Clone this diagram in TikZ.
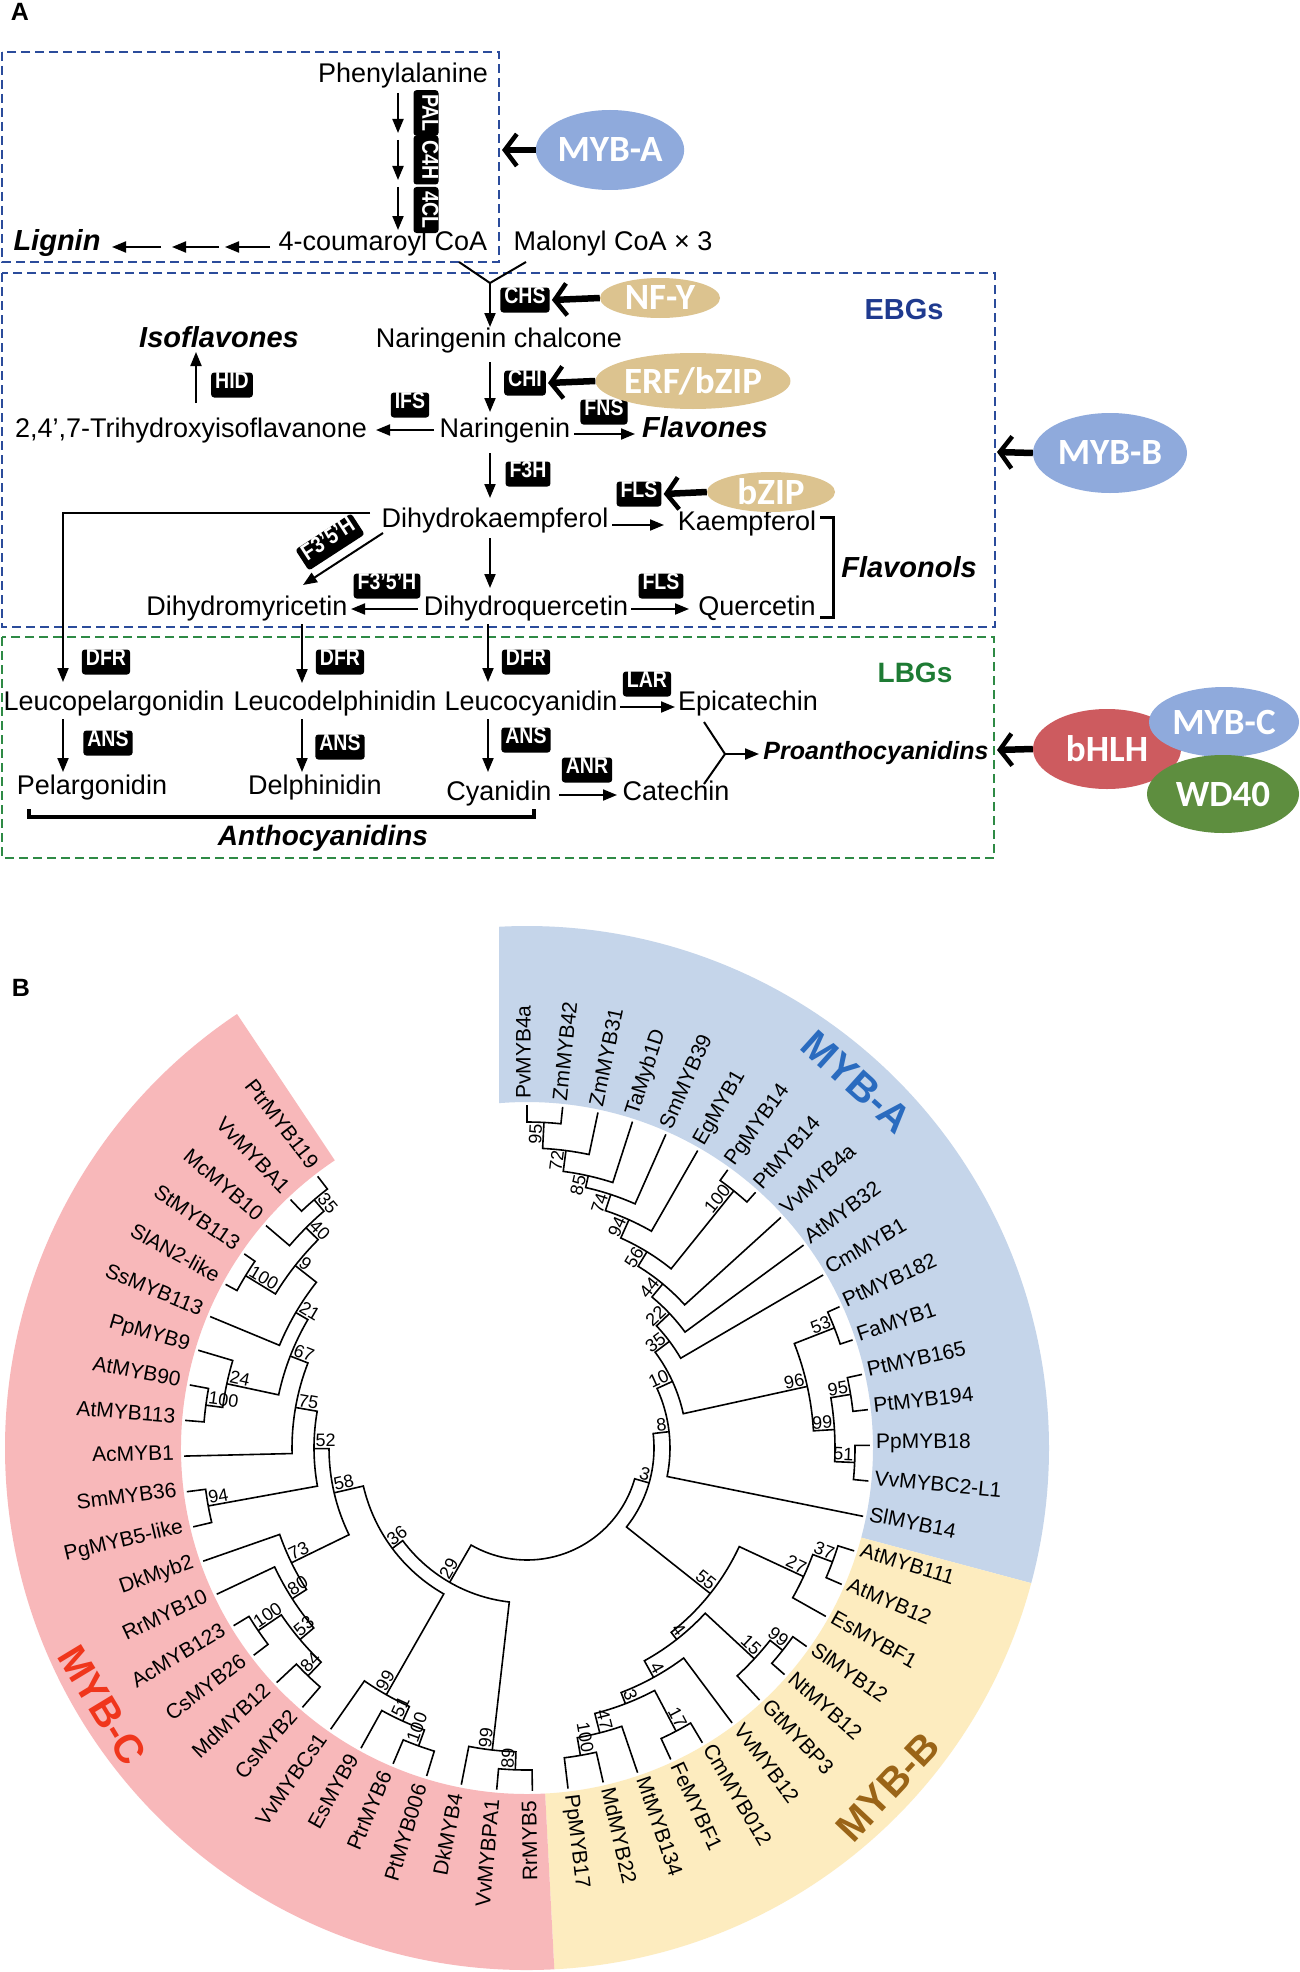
\documentclass[tikz,border=0pt]{standalone}
\usepackage{fontspec}
\setmainfont{Liberation Sans}
\newfontfamily\calib{Carlito}
\newfontfamily\nbf[FakeStretch=0.85]{Liberation Sans}
\usetikzlibrary{arrows.meta,shapes.geometric}
\newcommand\fsz[1]{\fontsize{#1}{#1}\selectfont}
\definecolor{boxblue}{HTML}{2B4C9B}
\definecolor{boxgreen}{HTML}{2E8A45}
\definecolor{ellblue}{HTML}{8FAADC}
\definecolor{elltan}{HTML}{DCC38F}
\definecolor{ellred}{HTML}{CD5B5F}
\definecolor{ellgreen}{HTML}{5E8E3F}
\definecolor{ebgblue}{HTML}{1F3A8F}
\definecolor{lbggreen}{HTML}{1E7B34}
\definecolor{bandblue}{HTML}{C5D5EA}
\definecolor{bandyellow}{HTML}{FDECBF}
\definecolor{bandpink}{HTML}{F8B8BA}
\definecolor{mybA}{HTML}{2A6BBF}
\definecolor{mybB}{HTML}{9A6417}
\definecolor{mybC}{HTML}{F0361C}
\tikzset{
 txt/.style={font=\fsz{27}, inner sep=0pt, text height=0.72em, text depth=0pt, yshift=-4pt},
 btxt/.style={font=\fsz{29}\bfseries\itshape, inner sep=0pt, text height=0.72em, text depth=0pt, yshift=-4pt},
 enz/.style={fill=black, text=white, rounded corners=3pt, font=\nbf\fsz{23}\bfseries, inner xsep=4pt, inner ysep=0pt, text height=0.72em, text depth=0pt, minimum height=25pt},
 tfell/.style={ellipse, inner sep=0pt, text=white, font=\calib\bfseries\fsz{37}},
 arr/.style={line width=2pt, -{Triangle[length=14pt,width=11pt]}},
 tarr/.style={line width=6.5pt, -{Straight Barb[length=12pt,width=32pt,line width=4.5pt]}},
 dbox/.style={line width=1.8pt, dash pattern=on 9pt off 5pt},
 tree/.style={line width=1.6pt},
 leaflab/.style={font=\fsz{21}, inner sep=0pt, text height=0.72em, text depth=0pt},
 bslab/.style={font=\fsz{18}, inner sep=1.5pt, text height=0.72em, text depth=0pt},
 clade/.style={font=\fsz{40}\bfseries, inner sep=0pt}
}
% leaf: id, index, text
\newcommand\lf[3]{%
  \pgfmathsetmacro\myang{90-5.97*#2}%
  \expandafter\xdef\csname TA#1\endcsname{\myang}%
  \expandafter\xdef\csname TR#1\endcsname{343}%
  \pgfmathtruncatemacro\myflip{\myang<-87}%
  \ifnum\myflip=1
    \pgfmathsetmacro\myrot{\myang+180}%
    \node[leaflab, anchor=east, rotate=\myrot] (leaf#1) at ({\myang}:353) {#3};%
  \else
    \node[leaflab, anchor=west, rotate=\myang] (leaf#1) at ({\myang}:349) {#3};%
  \fi
}
% join: id, radius, child1, child2, bootstrap
\newcommand\jn[5]{%
  \edef\tjA{\csname TA#3\endcsname}\edef\tjB{\csname TA#4\endcsname}%
  \edef\tjRA{\csname TR#3\endcsname}\edef\tjRB{\csname TR#4\endcsname}%
  \draw[tree] ({\tjA}:{\tjRA}) -- ({\tjA}:#2) arc[start angle=\tjA, end angle=\tjB, radius=#2pt] -- ({\tjB}:{\tjRB});%
  \pgfmathsetmacro\tjM{(\tjA+\tjB)/2}%
  \expandafter\xdef\csname TA#1\endcsname{\tjM}%
  \expandafter\xdef\csname TR#1\endcsname{#2}%
  \def\tjL{#5}%
  \ifx\tjL\empty\else
    \pgfmathtruncatemacro\tjF{\tjM<-87}%
    \ifnum\tjF=1
      \pgfmathsetmacro\tjR{\tjM+180}%
      \node[bslab, anchor=south west, rotate=\tjR] (bs#1) at ({\tjM}:#2) {#5};%
    \else
      \node[bslab, anchor=south east, rotate=\tjM] (bs#1) at ({\tjM}:#2) {#5};%
    \fi
  \fi
}
\begin{document}
\begin{tikzpicture}[x=1pt,y=-1pt]
\useasboundingbox (0,0) rectangle (1299,1972);
\fill[white] (0,0) rectangle (1299,1972);
% ================= Panel A =================
\node[font=\fsz{25}\bfseries, inner sep=0pt, text height=0.72em, text depth=0pt] (lblA) at (20,17) {A};
\draw[dbox, boxblue] (2,52) rectangle (499,262);
\draw[dbox, boxblue] (2,273) rectangle (995,627);
\draw[dbox, boxgreen] (2,637) rectangle (994,858);
\node[font=\fsz{29}\bfseries, text=ebgblue, inner sep=0pt] (ebg) at (904,310) {EBGs};
\node[font=\fsz{28}\bfseries, text=lbggreen, inner sep=0pt] (lbg) at (915,673) {LBGs};
% texts
\node[txt] (phe) at (403,75) {Phenylalanine};
\node[txt] (cou) at (383,243) {4-coumaroyl CoA};
\node[txt] (mal) at (613,243) {Malonyl CoA × 3};
\node[btxt] (lig) at (57,243) {Lignin};
\node[txt] (nch) at (499,340) {Naringenin chalcone};
\node[btxt] (iso) at (219,340) {Isoflavones};
\node[txt] (nar) at (505,430) {Naringenin};
\node[txt] (tri) at (191,430) {2,4’,7-Trihydroxyisoflavanone};
\node[btxt] (fla) at (705,430) {Flavones};
\node[txt] (dhk) at (495,520) {Dihydrokaempferol};
\node[txt] (kae) at (747,523) {Kaempferol};
\node[btxt] (fol) at (909,570) {Flavonols};
\node[txt] (dhm) at (247,608) {Dihydromyricetin};
\node[txt] (dhq) at (526,608) {Dihydroquercetin};
\node[txt] (que) at (757,608) {Quercetin};
\node[txt] (lpe) at (114,703) {Leucopelargonidin};
\node[txt] (lde) at (335,703) {Leucodelphinidin};
\node[txt] (lcy) at (531,703) {Leucocyanidin};
\node[txt] (epi) at (748,703) {Epicatechin};
\node[txt] (pel) at (92,787) {Pelargonidin};
\node[txt] (del) at (315,787) {Delphinidin};
\node[txt] (cya) at (499,793) {Cyanidin};
\node[txt] (cat) at (676,793) {Catechin};
\node[btxt, font=\fsz{25}\bfseries\itshape] (pro) at (876,752) {Proanthocyanidins};
\node[btxt, font=\fsz{28}\bfseries\itshape] (ant) at (323,838) {Anthocyanidins};
% enzymes
\node[enz, rotate=-90, minimum height=25pt, minimum width=45pt] (pal) at (426,113) {PAL};
\node[enz, rotate=-90, minimum height=25pt, minimum width=49pt] (c4h) at (426,160) {C4H};
\node[enz, rotate=-90, minimum height=25pt, minimum width=46pt] (fcl) at (426,210) {4CL};
\node[enz] (chs) at (525,300) {CHS};
\node[enz] (hid) at (232,385) {HID};
\node[enz] (chi) at (525,383) {CHI};
\node[enz] (ifs) at (410,405) {IFS};
\node[enz] (fns) at (604,412) {FNS};
\node[enz] (f3h) at (528,474) {F3H};
\node[enz] (fls1) at (639,494) {FLS};
\node[enz, rotate=33] (f35a) at (330,542) {F3’5’H};
\node[enz] (f35b) at (387,586) {F3’5’H};
\node[enz] (fls2) at (661,586) {FLS};
\node[enz] (dfr1) at (106,662) {DFR};
\node[enz] (dfr2) at (340,662) {DFR};
\node[enz] (dfr3) at (526,662) {DFR};
\node[enz] (lar) at (647,684) {LAR};
\node[enz] (ans1) at (108,743) {ANS};
\node[enz] (ans2) at (340,747) {ANS};
\node[enz] (ans3) at (526,740) {ANS};
\node[enz] (anr) at (587,770) {ANR};
% thin arrows
\draw[arr] (398,93) -- (398,133);
\draw[arr] (398,140) -- (398,180);
\draw[arr] (398,187) -- (398,230);
\draw[arr] (161,247) -- (112,247);
\draw[arr] (219,247) -- (172,247);
\draw[arr] (270,247) -- (225,247);
\coordinate (meet) at (490,283);
\draw[line width=2pt] (459,262) -- (meet) -- (526,262);
\draw[arr] (meet) -- (490,327);
\draw[arr] (196,403) -- (196,352);
\draw[arr] (490,362) -- (490,412);
\draw[arr] (434,430) -- (376,430);
\draw[arr] (574,434) -- (635,434);
\draw[arr] (490,453) -- (490,498);
\draw[arr] (612,525) -- (664,525);
\draw[arr] (370,513) -- (63,513) -- (63,682);
\draw[arr] (383,533) -- (303,585);
\draw[arr] (490,538) -- (490,588);
\draw[arr] (418,609) -- (351,609);
\draw[arr] (631,609) -- (689,609);
\draw[line width=3pt] (820,517) -- (833,517) -- (833,617) -- (820,617);
\draw[arr] (302,624) -- (302,683);
\draw[arr] (488,624) -- (488,682);
\draw[arr] (63,719) -- (63,772);
\draw[arr] (302,719) -- (302,772);
\draw[arr] (488,719) -- (488,772);
\draw[arr] (620,707) -- (675,707);
\draw[arr] (559,795) -- (617,795);
\coordinate (pmeet) at (725,754);
\draw[line width=2pt] (704,722) -- (pmeet) -- (704,784);
\draw[arr] (pmeet) -- (759,754);
\draw[line width=4pt] (29,809) -- (29,817) -- (534,817) -- (534,809);
% transcription factors
\node[tfell, fill=ellblue, minimum width=140pt, minimum height=80pt] (mybAe) at (610,150) {MYB-A};
\node[tfell, fill=elltan, minimum width=120pt, minimum height=40pt] (nfy) at (660,298) {NF-Y};
\node[tfell, fill=elltan, minimum width=182pt, minimum height=56pt] (erf) at (693,381) {ERF/bZIP};
\node[tfell, fill=elltan, minimum width=128pt, minimum height=40pt] (bzip) at (771,492) {bZIP};
\node[tfell, fill=ellblue, minimum width=154pt, minimum height=80pt] (mybBe) at (1110,453) {MYB-B};
\node[tfell, fill=ellred, minimum width=148pt, minimum height=80pt] (bhlh) at (1107,749) {bHLH};
\node[tfell, fill=ellblue, minimum width=150pt, minimum height=70pt] (mybCe) at (1224,722) {MYB-C};
\node[tfell, fill=ellgreen, minimum width=152pt, minimum height=78pt] (wd40) at (1223,794) {WD40};
\draw[tarr] (mybAe.west) -- (502,150);
\draw[tarr] (nfy.west) -- ([xshift=2pt]chs.east);
\draw[tarr] (erf.west) -- ([xshift=2pt]chi.east);
\draw[tarr] (bzip.west) -- ([xshift=2pt]fls1.east);
\draw[tarr] (mybBe.west) -- (997,452);
\draw[tarr] (bhlh.west) -- (997,750);
% ================= Panel B =================
\node[font=\fsz{25}\bfseries, inner sep=0pt, text height=0.72em, text depth=0pt] (lblB) at (21,993) {B};
\begin{scope}[shift={(527,1448)}, x=1pt, y=1pt]
\fill[bandblue] (93.07:522) arc[start angle=93.07, end angle=-15, radius=522pt] -- (-15:346) arc[start angle=-15, end angle=94.64, radius=346pt] -- cycle;
\fill[bandyellow] (-15:522) arc[start angle=-15, end angle=-87, radius=522pt] -- (-87:346) arc[start angle=-87, end angle=-15, radius=346pt] -- cycle;
\fill[bandpink] (-87:522) arc[start angle=-87, end angle=-236.25, radius=522pt] -- (-236.25:346) arc[start angle=-236.25, end angle=-87, radius=346pt] -- cycle;
\node[clade, text=mybA, rotate=-42] (cladeA) at (48:493) {MYB-A};
\node[clade, text=mybB, rotate=46.8] (cladeB) at (-43.2:495) {MYB-B};
\node[clade, text=mybC, rotate=-58.8] (cladeC) at (-148.8:496.5) {MYB-C};
% leaves
\lf{L0}{0}{PvMYB4a}\lf{L1}{1}{ZmMYB42}\lf{L2}{2}{ZmMYB31}\lf{L3}{3}{TaMyb1D}
\lf{L4}{4}{SmMYB39}\lf{L5}{5}{EgMYB1}\lf{L6}{6}{PgMYB14}\lf{L7}{7}{PtMYB14}
\lf{L8}{8}{VvMYB4a}\lf{L9}{9}{AtMYB32}\lf{L10}{10}{CmMYB1}\lf{L11}{11}{PtMYB182}
\lf{L12}{12}{FaMYB1}\lf{L13}{13}{PtMYB165}\lf{L14}{14}{PtMYB194}\lf{L15}{15}{PpMYB18}
\lf{L16}{16}{VvMYBC2-L1}\lf{L17}{17}{SlMYB14}
\lf{L18}{18}{AtMYB111}\lf{L19}{19}{AtMYB12}\lf{L20}{20}{EsMYBF1}\lf{L21}{21}{SlMYB12}
\lf{L22}{22}{NtMYB12}\lf{L23}{23}{GtMYBP3}\lf{L24}{24}{VvMYB12}\lf{L25}{25}{CmMYB012}
\lf{L26}{26}{FeMYBF1}\lf{L27}{27}{MtMYB134}\lf{L28}{28}{MdMYB22}\lf{L29}{29}{PpMYB17}
\lf{L30}{30}{RrMYB5}\lf{L31}{31}{VvMYBPA1}\lf{L32}{32}{DkMYB4}\lf{L33}{33}{PtMYB006}
\lf{L34}{34}{PtrMYB6}\lf{L35}{35}{EsMYB9}\lf{L36}{36}{VvMYBCs1}\lf{L37}{37}{CsMYB2}
\lf{L38}{38}{MdMYB12}\lf{L39}{39}{CsMYB26}\lf{L40}{40}{AcMYB123}\lf{L41}{41}{RrMYB10}
\lf{L42}{42}{DkMyb2}\lf{L43}{43}{PgMYB5-like}\lf{L44}{44}{SmMYB36}\lf{L45}{45}{AcMYB1}
\lf{L46}{46}{AtMYB113}\lf{L47}{47}{AtMYB90}\lf{L48}{48}{PpMYB9}\lf{L49}{49}{SsMYB113}
\lf{L50}{50}{SlAN2-like}\lf{L51}{51}{StMYB113}\lf{L52}{52}{McMYB10}\lf{L53}{53}{VvMYBA1}
\lf{L54}{54}{PtrMYB119}
% MYB-A clade
\jn{a95}{326}{L0}{L1}{95}
\jn{a72}{300}{a95}{L2}{72}
\jn{a85}{279}{a72}{L3}{85}
\jn{a74}{267}{a85}{L4}{74}
\jn{a94}{250}{a74}{L5}{94}
\jn{a100}{330}{L6}{L7}{100}
\jn{a56}{230}{a94}{a100}{56}
\jn{a44}{213}{a56}{L8}{44}
\jn{a22}{196}{a44}{L9}{22}
\jn{a35}{178}{a22}{L10}{35}
\jn{a53}{330}{L11}{L12}{53}
\jn{a95b}{328}{L13}{L14}{95}
\jn{a51}{328}{L15}{L16}{51}
\jn{a99}{308}{a95b}{a51}{99}
\jn{a96}{287}{a53}{a99}{96}
\jn{a10}{160}{a35}{a96}{10}
\jn{a8}{143}{a10}{L17}{8}
% MYB-B clade
\jn{b37}{326}{L18}{L19}{37}
\jn{b27}{305}{b37}{L20}{27}
\jn{b99}{326}{L21}{L22}{99}
\jn{b15}{310}{b99}{L23}{15}
\jn{b17}{320}{L25}{L26}{17}
\jn{b100}{312}{L28}{L29}{100}
\jn{b47}{294}{L27}{b100}{47}
\jn{b3}{274}{b17}{b47}{3}
\jn{bL4}{262}{L24}{b3}{4}
\jn{bU4}{243}{b15}{bL4}{4}
\jn{b55}{234}{b27}{bU4}{55}
\jn{n3}{127}{a8}{b55}{3}
% MYB-C clade
\jn{c89}{322}{L30}{L31}{89}
\jn{c99c}{304}{c89}{L32}{99}
\jn{c100c}{317}{L33}{L34}{100}
\jn{c51}{300}{c100c}{L35}{51}
\jn{c99u}{284}{c51}{L36}{99}
\jn{c84}{316}{L37}{L38}{84}
\jn{c100ac}{325}{L39}{L40}{100}
\jn{c53}{297}{c84}{c100ac}{53}
\jn{c80}{279}{c53}{L41}{80}
\jn{c73}{262}{c80}{L42}{73}
\jn{c94}{324}{L43}{L44}{94}
\jn{c100at}{324}{L46}{L47}{100}
\jn{c24}{307}{c100at}{L48}{24}
\jn{c100sl}{330}{L50}{L51}{100}
\jn{c35}{327}{L53}{L54}{35}
\jn{c40}{312}{L52}{c35}{40}
\jn{c9}{295}{c100sl}{c40}{9}
\jn{c21}{268}{L49}{c9}{21}
\jn{c67}{254}{c24}{c21}{67}
\jn{c75}{235}{L45}{c67}{75}
\jn{c52}{213}{c94}{c75}{52}
\jn{c58}{198}{c73}{c52}{58}
\jn{c36}{168}{c99u}{c58}{36}
\jn{c29}{155}{c99c}{c36}{29}
\jn{root}{112}{n3}{c29}{}
\end{scope}
\end{tikzpicture}
\end{document}
